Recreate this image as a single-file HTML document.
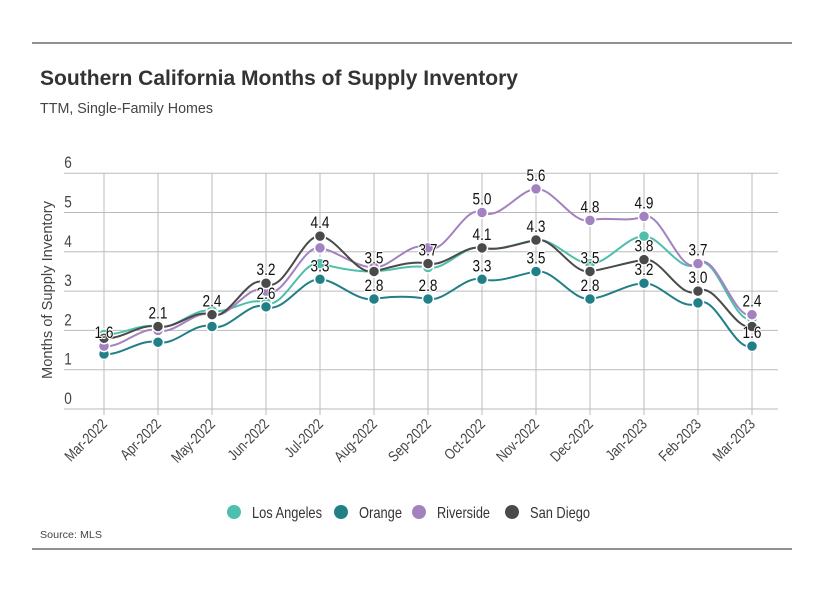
<!DOCTYPE html>
<html><head><meta charset="utf-8"><style>
body{margin:0;background:#fff;width:822px;height:591px;overflow:hidden;font-family:"Liberation Sans",sans-serif;}
</style></head><body>
<svg width="822" height="591" font-family="Liberation Sans, sans-serif">
<line x1="32" y1="43" x2="792" y2="43" stroke="#222"/>
<line x1="32" y1="549" x2="792" y2="549" stroke="#222"/>
<text x="40" y="85" font-size="21" font-weight="bold" fill="#333" textLength="478" lengthAdjust="spacingAndGlyphs">Southern California Months of Supply Inventory</text>
<text x="40" y="113" font-size="15" fill="#444" textLength="173" lengthAdjust="spacingAndGlyphs">TTM, Single-Family Homes</text>
<text x="40" y="538" font-size="10" fill="#444" textLength="62" lengthAdjust="spacingAndGlyphs">Source: MLS</text>
<text transform="translate(52,290) rotate(-90)" text-anchor="middle" font-size="15" fill="#444" textLength="178" lengthAdjust="spacingAndGlyphs">Months of Supply Inventory</text>
<g id="grid"></g><g id="lines"></g><g id="xl"></g><g id="legend"></g>
</svg>
<script>
const categories=["Mar-2022","Apr-2022","May-2022","Jun-2022","Jul-2022","Aug-2022","Sep-2022","Oct-2022","Nov-2022","Dec-2022","Jan-2023","Feb-2023","Mar-2023"];
const yTicks=[0,1,2,3,4,5,6];
const seriesNames=["Los Angeles","Orange","Riverside","San Diego"];
const losAngeles=[1.9,2.1,2.5,2.7,3.7,3.5,3.6,4.1,4.3,3.7,4.4,3.7,2.3];
const orange=[1.4,1.7,2.1,2.6,3.3,2.8,2.8,3.3,3.5,2.8,3.2,2.7,1.6];
const riverside=[1.6,2.0,2.4,3.0,4.1,3.6,4.1,5.0,5.6,4.8,4.9,3.7,2.4];
const sanDiego=[1.8,2.1,2.4,3.2,4.4,3.5,3.7,4.1,4.3,3.5,3.8,3.0,2.1];
const labeledOrange=[3,4,5,6,7,8,9,10,12];
const labeledRiverside=[0,7,8,9,10,11,12];
const labeledSanDiego=[1,2,3,4,5,6,7,8,9,10,11];
const NS="http://www.w3.org/2000/svg";
const colors=["#4dbfaa","#217f87","#a283c0","#4a4a4a"];
const X0=104,DX=54,Y0=409,PY=39.3;
const xs=i=>X0+i*DX, ys=v=>Y0-v*PY;
function mk(t,a,p){const e=document.createElementNS(NS,t);for(const k in a)e.setAttribute(k,a[k]);p.appendChild(e);return e;}
const grid=document.getElementById('grid');
yTicks.forEach(t=>{
 const l=mk('line',{x1:64,x2:778,y1:ys(t),y2:ys(t),stroke:'#bbb','stroke-width':1},grid);
 
 
 const tx=mk('text',{transform:`translate(68,${ys(t)-5}) scale(0.8,1)`,'font-size':17,fill:'#444','text-anchor':'middle'},grid);tx.textContent=t;
 
 
});
categories.forEach((c,i)=>{
 const l=mk('line',{x1:xs(i),x2:xs(i),y1:ys(6),y2:ys(0)+6,stroke:'#bbb','stroke-width':1},grid);
 
 
 const t=mk('text',{transform:`translate(${xs(i)+4},${ys(0)+16}) rotate(-45) scale(0.82,1)`,'text-anchor':'end','font-size':15,fill:'#444'},document.getElementById('xl'));
 t.textContent=c;
 
 
});
function path(v){let d=`M${xs(0)},${ys(v[0])}`;for(let i=0;i<v.length-1;i++){const p0=v[Math.max(i-1,0)],p1=v[i],p2=v[i+1],p3=v[Math.min(i+2,v.length-1)];
 const c1x=xs(i)+DX/3,c2x=xs(i+1)-DX/3;const c1y=ys(p1)-(ys(p2)-ys(p0))/6*0.9,c2y=ys(p2)+(ys(p3)-ys(p1))/6*0.9;
 d+=` C${c1x},${c1y} ${c2x},${c2y} ${xs(i+1)},${ys(p2)}`;}return d;}
const all=[losAngeles,orange,riverside,sanDiego];
const labs=[[],labeledOrange,labeledRiverside,labeledSanDiego];
const lg=document.getElementById('lines');
all.forEach((v,s)=>{
 const p=mk('path',{d:path(v),fill:'none',stroke:colors[s],'stroke-width':2},lg);
 
 
 v.forEach((y,i)=>{const c=mk('circle',{cx:xs(i),cy:ys(y),r:5.5,fill:colors[s],stroke:'#fff','stroke-width':1.5},lg);
  
  });
});
all.forEach((v,s)=>{labs[s].forEach(i=>{
 const t=mk('text',{transform:`translate(${xs(i)},${ys(v[i])-8}) scale(0.8,1)`,'text-anchor':'middle','font-size':17,fill:'#111',stroke:'#fff','stroke-width':2,'paint-order':'stroke'},lg);
 t.textContent=v[i].toFixed(1);
 
 
});});
const legX=[234,341,419,512];
const legW=[70,43,53,60];
const leg=document.getElementById('legend');
seriesNames.forEach((n,s)=>{
 const g=mk('g',{},leg);
 
 
 mk('circle',{cx:legX[s],cy:512,r:7,fill:colors[s]},g);
 const t=mk('text',{x:legX[s]+18,y:518,'font-size':16,fill:'#333',textLength:legW[s],lengthAdjust:'spacingAndGlyphs'},g);t.textContent=n;
});
</script>
</body></html>
